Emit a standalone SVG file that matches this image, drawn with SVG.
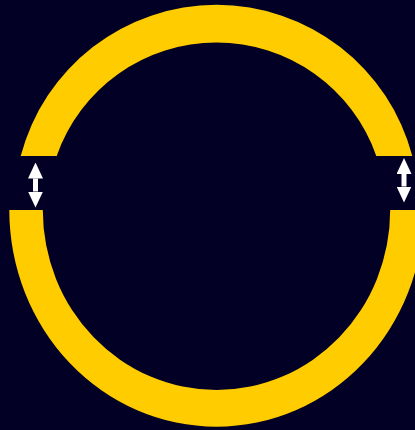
<svg xmlns="http://www.w3.org/2000/svg" width="415" height="430" viewBox="0 0 415 430">
  <style>
    .arc { fill: #FFCC00; stroke: none; }
    .conn { stroke: #FFFFFF; stroke-width: 5; fill: none; marker-start: url(#head); marker-end: url(#head); }
  </style>
  <defs>
    <marker id="head" markerUnits="userSpaceOnUse" markerWidth="16" markerHeight="15" refX="0" refY="7.5" orient="auto-start-reverse" viewBox="0 0 16 15">
      <path d="M0,0 L16,7.5 L0,15 Z" fill="#FFFFFF"/>
    </marker>
  </defs>
  <rect x="0" y="0" width="415" height="430" fill="#020024"/>
  <g id="ring-top">
    <path class="arc" d="M 20.7,156 A 202.4 202.4 0 0 1 412.3,156 L 376.3,156 A 169.3 169.3 0 0 0 56.7,156 Z"/>
  </g>
  <g id="ring-bottom">
    <path class="arc" d="M 9.3,210 A 207.2 216.7 0 0 0 423.7,210 L 390.2,210 A 173.7 180 0 0 1 42.8,210 Z"/>
  </g>
  <g id="connectors">
    <line class="conn" x1="35.5" y1="178.5" x2="35.5" y2="191.5"/>
    <line class="conn" x1="404" y1="174" x2="404" y2="186.5"/>
  </g>
</svg>
